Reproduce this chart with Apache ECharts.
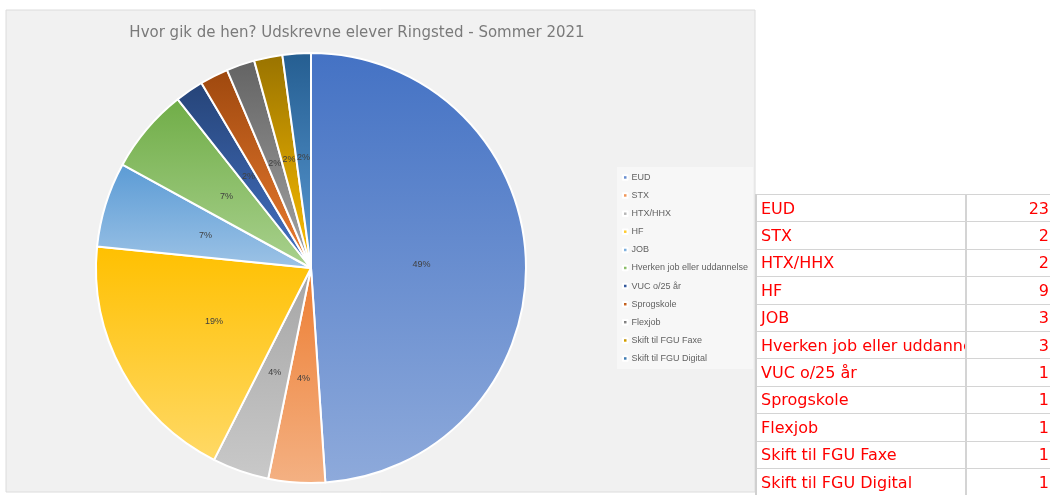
<!DOCTYPE html>
<html>
<head>
<meta charset="utf-8">
<script src="https://cdn.jsdelivr.net/npm/echarts@6/dist/echarts.min.js"></script>
<style>
  html, body { margin: 0; padding: 0; background: #fff; }
  #wrap { position: relative; width: 1050px; height: 495px; overflow: hidden; }
  #chart { position: absolute; left: 0; top: 0; width: 1050px; height: 495px; }
  #tbl {
    position: absolute; left: 755px; top: 194px; border-collapse: collapse;
    font-family: "DejaVu Sans", sans-serif; font-size: 16px; color: #ff0000;
    border-left: 2px solid #d0d0d0; table-layout: fixed;
  }
  #tbl tr { height: 27.4px; }
  #tbl td { padding: 0 1px 0 4px; border-top: 1.5px solid #d4d4d4; white-space: nowrap; }
  #tbl td.name { width: 203px; max-width: 203px; overflow: hidden; border-right: 2px solid #d4d4d4; }
  #tbl td.val { width: 80px; text-align: right; }
</style>
</head>
<body>
<div id="wrap">
  <div id="chart"></div>
  <table id="tbl"></table>
</div>
<script>
const categories = ['EUD', 'STX', 'HTX/HHX', 'HF', 'JOB', 'Hverken job eller uddannelse',
  'VUC o/25 år', 'Sprogskole', 'Flexjob', 'Skift til FGU Faxe', 'Skift til FGU Digital']
const counts = [23, 2, 2, 9, 3, 3, 1, 1, 1, 1, 1]

// top (dark) and bottom (light) colour of each slice gradient
const topColors = ['#4472c4', '#ed7d31', '#a5a5a5', '#ffc000', '#5b9bd5', '#70ad47',
  '#264478', '#9e480e', '#636363', '#997300', '#255e91']
const bottomColors = ['#8eaadb', '#f4b183', '#c9c9c9', '#ffd966', '#9dc3e6', '#a9d18e',
  '#4472c4', '#ed7d31', '#a5a5a5', '#ffc000', '#5b9bd5']

const grad = i => new echarts.graphic.LinearGradient(0, 0, 0, 1, [
  { offset: 0, color: topColors[i] },
  { offset: 1, color: bottomColors[i] }
])

const chart = echarts.init(document.getElementById('chart'), null, { renderer: 'canvas' })
chart.setOption({
  animation: false,
  color: topColors,
  graphic: [
    {
      type: 'rect', z: -10, silent: true,
      shape: { x: 6, y: 10, width: 749, height: 482 },
      style: { fill: '#f1f1f1', stroke: '#dcdcdc', lineWidth: 1 }
    }
  ],
  title: {
    text: 'Hvor gik de hen? Udskrevne elever Ringsted - Sommer 2021',
    left: 352, top: 21, textAlign: 'center',
    textStyle: { fontFamily: 'DejaVu Sans', fontSize: 15, fontWeight: 'normal', color: '#7a7a7a' }
  },
  legend: {
    orient: 'vertical',
    left: 617, top: 167,
    padding: [6, 5, 6, 5],
    backgroundColor: '#f7f7f7',
    icon: 'rect',
    itemWidth: 4.5, itemHeight: 4.5,
    itemGap: 9.1,
    textStyle: { fontFamily: 'Liberation Sans', fontSize: 9, color: '#626262', padding: [0, 0, 0, -1] },
    data: categories
  },
  series: [{
    type: 'pie',
    center: [311, 268],
    radius: 215,
    startAngle: 90,
    clockwise: true,
    percentPrecision: 0,
    avoidLabelOverlap: false,
    label: {
      show: true, position: 'inside', formatter: '{d}%',
      fontFamily: 'Liberation Sans', fontSize: 9, color: '#404040'
    },
    labelLine: { show: false },
    itemStyle: { borderColor: '#fff', borderWidth: 2 },
    emphasis: { disabled: true },
    data: categories.map((name, i) => ({
      name,
      value: counts[i],
      itemStyle: { color: grad(i) }
    }))
  }]
})

// spreadsheet table beside the chart
const tbl = document.getElementById('tbl')
categories.forEach((name, i) => {
  const tr = document.createElement('tr')
  const a = document.createElement('td')
  a.className = 'name'
  a.textContent = name
  const b = document.createElement('td')
  b.className = 'val'
  b.textContent = counts[i]
  tr.appendChild(a)
  tr.appendChild(b)
  tbl.appendChild(tr)
})
</script>
</body>
</html>
